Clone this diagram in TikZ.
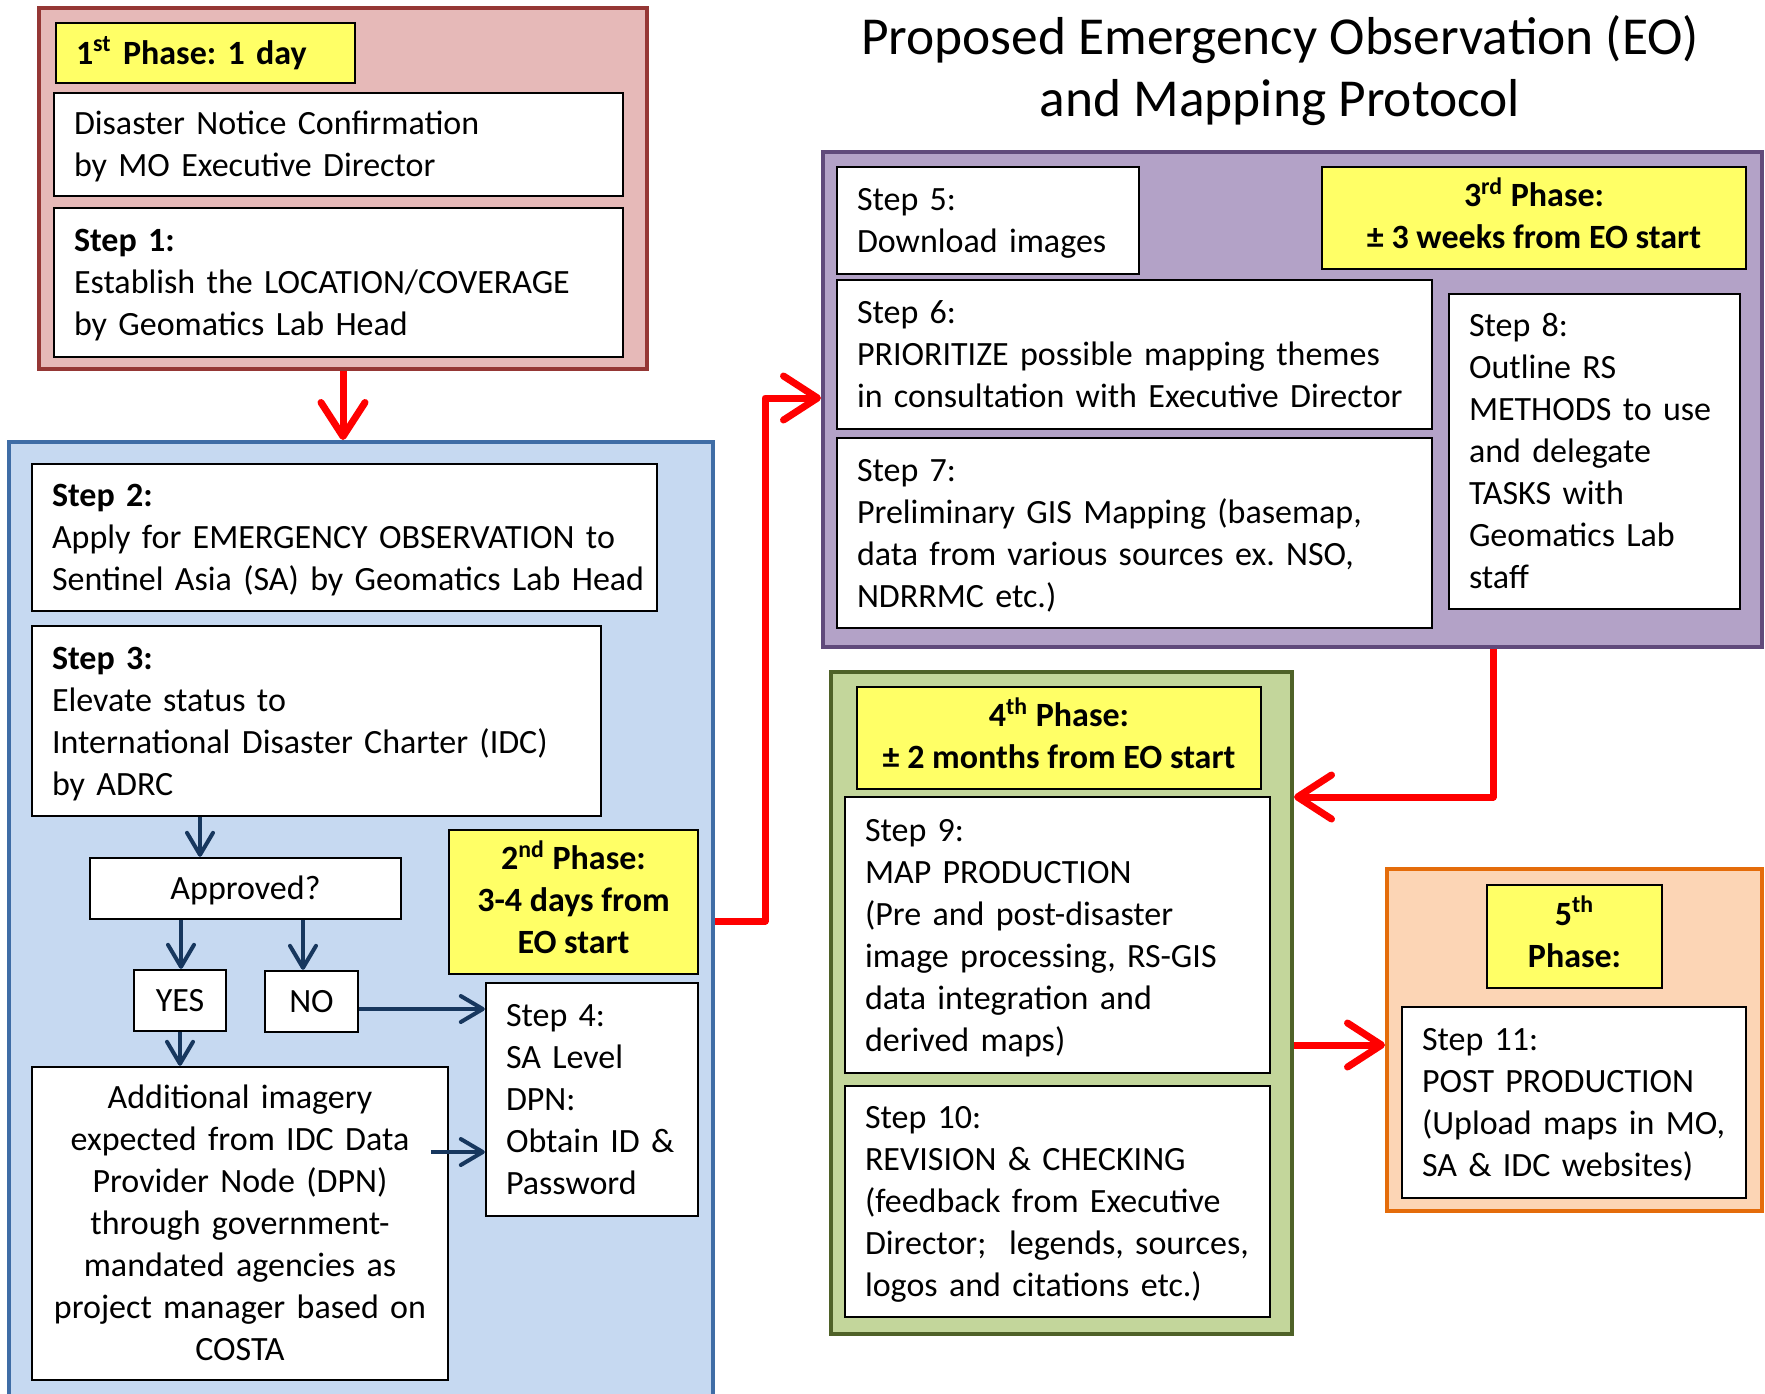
\documentclass[tikz,border=0pt]{standalone}
\usepackage{fontspec}
\setmainfont{Carlito}
\frenchspacing
\usetikzlibrary{arrows.meta}
\definecolor{pinkfill}{HTML}{E6B9B8}
\definecolor{pinkline}{HTML}{953735}
\definecolor{bluefill}{HTML}{C6D9F1}
\definecolor{blueline}{HTML}{3F6DA6}
\definecolor{purplefill}{HTML}{B3A2C7}
\definecolor{purpleline}{HTML}{604A7B}
\definecolor{greenfill}{HTML}{C3D69B}
\definecolor{greenline}{HTML}{4F6228}
\definecolor{orangefill}{HTML}{FCD5B5}
\definecolor{orangeline}{HTML}{E46C0A}
\definecolor{phaseyellow}{HTML}{FFFF66}
\definecolor{navy}{HTML}{17375E}
\newcommand\drawbox[7]{%
  \pgfmathsetmacro\bw{(#5-#3)*0.5}%
  \pgfmathsetmacro\bh{(#6-#4)*0.5}%
  \pgfmathsetmacro\tw{(#5-#3-40)*0.5}%
  \node[#2, minimum width=\bw pt, minimum height=\bh pt, text width=\tw pt] (#1) at ({(#3+#5)/2},{(#4+#6)/2}) {#7};}
\newcommand\drawcbox[7]{%
  \pgfmathsetmacro\bw{(#5-#3)*0.5}%
  \pgfmathsetmacro\bh{(#6-#4)*0.5}%
  \node[#2, minimum width=\bw pt, minimum height=\bh pt] (#1) at ({(#3+#5)/2},{(#4+#6)/2}) {#7};}
\tikzset{
  group/.style={draw, line width=2pt, inner sep=0pt},
  struts/.style={execute at begin node={\rule{0pt}{16pt}}, execute at end node={\rule[-5pt]{0pt}{5pt}}},
  stepbox/.style={draw=black, fill=white, line width=1.2pt, align=left, inner xsep=10pt, inner ysep=0pt, struts, font=\fontsize{17}{21}\selectfont},
  phasebox/.style={draw=black, fill=phaseyellow, line width=1pt, align=center, inner xsep=10pt, inner ysep=0pt, struts, font=\bfseries\fontsize{17}{21}\selectfont},
  redarr/.style={draw=red, line width=3.5pt, line join=round, -{Straight Barb[length=17pt,width=22pt,round]}},
  bluearr/.style={draw=navy, line width=2pt, -{Straight Barb[length=11pt,width=13pt,round]}}
}
\begin{document}
\begin{tikzpicture}[x=0.5pt,y=-0.5pt]
\clip (0,0) rectangle (1765,1393);
\fill[white] (0,0) rectangle (1765,1393);
% title
\node[font=\fontsize{26.7}{31}\selectfont, align=center] (title) at (1280,71) {Proposed Emergency Observation (EO)\\and Mapping Protocol};
% phase 1
\drawbox{p1}{group, draw=pinkline, fill=pinkfill}{39}{8}{647}{369}{}
\drawbox{ph1}{phasebox, align=left}{56}{23}{355}{83}{1\textsuperscript{st} Phase: 1 day}
\drawbox{dn}{stepbox}{54}{93}{623}{196}{Disaster Notice Confirmation\\by MO Executive Director}
\drawbox{s1}{stepbox}{54}{208}{623}{357}{\textbf{Step 1:}\\Establish the LOCATION/COVERAGE\\by Geomatics Lab Head}
% phase 2
\drawbox{blue}{group, draw=blueline, fill=bluefill}{9}{442}{713}{1420}{}
\drawbox{s2}{stepbox}{32}{464}{657}{611}{\textbf{Step 2:}\\Apply for EMERGENCY OBSERVATION to\\\mbox{Sentinel Asia (SA) by Geomatics Lab Head}}
\drawbox{s3}{stepbox}{32}{626}{601}{816}{\textbf{Step 3:}\\Elevate status to\\International Disaster Charter (IDC)\\by ADRC}
\drawcbox{appr}{stepbox, align=center}{90}{858}{401}{919}{Approved?}
\drawcbox{ph2}{phasebox}{449}{830}{698}{974}{2\textsuperscript{nd} Phase:\\3-4 days from\\EO start}
\drawcbox{yes}{stepbox, align=center, inner xsep=0pt}{134}{970}{226}{1031}{YES}
\drawcbox{no}{stepbox, align=center, inner xsep=0pt}{265}{971}{358}{1032}{NO}
\drawbox{s4}{stepbox}{486}{983}{698}{1216}{Step 4:\\SA Level\\DPN:\\Obtain ID \&\\Password}
\drawbox{add}{stepbox, align=center}{32}{1067}{448}{1380}{Additional imagery\\expected from IDC Data\\Provider Node (DPN)\\through government-\\mandated agencies as\\project manager based on\\COSTA}
% phase 3
\drawbox{purple}{group, draw=purpleline, fill=purplefill}{823}{152}{1762}{647}{}
\drawbox{s5}{stepbox}{837}{167}{1139}{274}{Step 5:\\Download images}
\drawcbox{ph3}{phasebox}{1322}{167}{1746}{269}{3\textsuperscript{rd} Phase:\\± 3 weeks from EO start}
\drawbox{s6}{stepbox}{837}{280}{1432}{429}{Step 6:\\PRIORITIZE possible mapping themes\\in consultation with Executive Director}
\drawbox{s7}{stepbox}{837}{438}{1432}{628}{Step 7:\\Preliminary GIS Mapping (basemap,\\data from various sources ex. NSO,\\NDRRMC etc.)}
\drawbox{s8}{stepbox}{1449}{294}{1740}{609}{Step 8:\\Outline RS\\METHODS to use\\and delegate\\TASKS with\\Geomatics Lab\\staff}
% phase 4
\drawbox{green}{group, draw=greenline, fill=greenfill}{831}{672}{1292}{1334}{}
\drawcbox{ph4}{phasebox}{857}{687}{1261}{789}{4\textsuperscript{th} Phase:\\± 2 months from EO start}
\drawbox{s9}{stepbox}{845}{797}{1270}{1073}{Step 9:\\MAP PRODUCTION\\(Pre and post-disaster\\image processing, RS-GIS\\data integration and\\derived maps)}
\drawbox{s10}{stepbox}{845}{1086}{1270}{1317}{Step 10:\\REVISION \& CHECKING\\(feedback from Executive\\Director;\ \ legends, sources,\\logos and citations etc.)}
% phase 5
\drawbox{orange}{group, draw=orangeline, fill=orangefill}{1387}{869}{1762}{1211}{}
\drawcbox{ph5}{phasebox}{1487}{885}{1662}{988}{5\textsuperscript{th}\\Phase:}
\drawbox{s11}{stepbox}{1402}{1007}{1746}{1198}{Step 11:\\POST PRODUCTION\\(Upload maps in MO,\\SA \& IDC websites)}
% red connectors
\draw[redarr] (p1.south) -- (blue.north -| p1.south);
\draw[redarr] (blue.east |- 0,921) -- (765,921) -- (765,398) -- (purple.west |- 0,398);
\draw[redarr] (purple.south -| 1493,0) -- (1493,797) -- (green.east |- 0,797);
\draw[redarr] (green.east |- 0,1045) -- (orange.west |- 0,1045);
% blue connectors
\draw[bluearr] (s3.south -| 200,0) -- (appr.north -| 200,0);
\draw[bluearr] (appr.south -| 181,0) -- (yes.north -| 181,0);
\draw[bluearr] (appr.south -| 303,0) -- (no.north -| 303,0);
\draw[bluearr] (no.east |- 0,1009) -- (s4.west |- 0,1009);
\draw[bluearr] (yes.south -| 180,0) -- (add.north -| 180,0);
\coordinate (addout) at (431,1152);
\draw[bluearr] (addout) -- (s4.west |- addout);
\end{tikzpicture}
\end{document}
